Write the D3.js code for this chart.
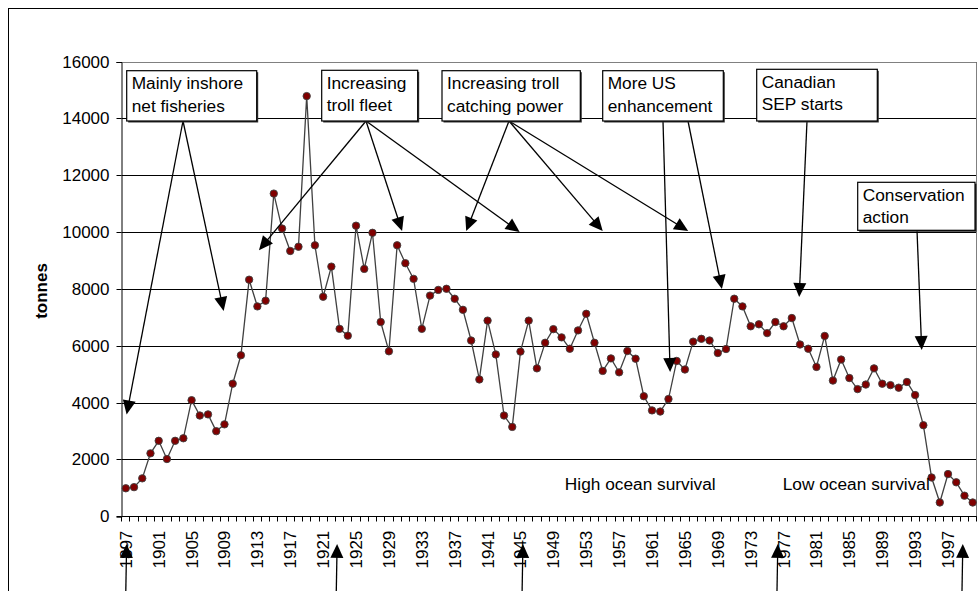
<!DOCTYPE html>
<html><head><meta charset="utf-8">
<script src="https://cdn.jsdelivr.net/npm/d3@7/dist/d3.min.js"></script>
<style>
body{margin:0;background:#fff}
svg{display:block}
text{font-family:Arial,"Liberation Sans",sans-serif;fill:#000}
</style>
</head><body>
<svg id="chart" width="978" height="591"></svg>
<script>
// ---------------- data ----------------
const years = [1897,1898,1899,1900,1901,1902,1903,1904,1905,1906,1907,1908,1909,1910,
1911,1912,1913,1914,1915,1916,1917,1918,1919,1920,1921,1922,1923,1924,1925,1926,1927,1928,1929,1930,
1931,1932,1933,1934,1935,1936,1937,1938,1939,1940,1941,1942,1943,1944,1945,1946,1947,1948,1949,1950,
1951,1952,1953,1954,1955,1956,1957,1958,1959,1960,1961,1962,1963,1964,1965,1966,1967,1968,1969,1970,
1971,1972,1973,1974,1975,1976,1977,1978,1979,1980,1981,1982,1983,1984,1985,1986,1987,1988,1989,1990,
1991,1992,1993,1994,1995,1996,1997,1998,1999,2000];
const tonnes = [1000,1040,1350,2230,2670,2030,2670,2760,4100,3560,3600,3010,3250,4680,
5680,8340,7400,7600,11370,10140,9350,9500,14800,9550,7740,8800,6610,6370,10240,8720,9990,6850,5820,9550,
8920,8370,6610,7780,7980,8020,7670,7280,6200,4830,6900,5710,3560,3160,5810,6900,5220,6120,6600,6310,
5910,6555,7140,6120,5130,5570,5080,5830,5560,4240,3740,3700,4140,5480,5180,6160,6260,6200,5760,5900,
7670,7400,6700,6770,6460,6850,6700,6990,6060,5910,5270,6360,4790,5530,4880,4490,4650,5220,4680,4630,
4540,4740,4280,3220,1380,500,1500,1210,740,500];
const yTickValues = [0,2000,4000,6000,8000,10000,12000,14000,16000];
const xTickLabels = years.filter((d,i) => i % 4 === 0);
const yTitle = "tonnes";

// annotation texts
const boxTexts = [
  ["Mainly inshore","net fisheries"],
  ["Increasing","troll fleet"],
  ["Increasing troll","catching power"],
  ["More US","enhancement"],
  ["Canadian","SEP starts"],
  ["Conservation","action"]
];
// arrow targets in data space: [box index, year, tonnes]
const arrowTargets = [
  [0,1897.1,3600],[0,1908.9,7240],
  [1,1913.2,9380],[1,1930.6,10050],[1,1944.9,10020],
  [2,1938.4,10050],[2,1955.0,10050],[2,1965.4,10050],
  [3,1963.2,5090],[3,1969.5,8010],
  [4,1978.9,7730],
  [5,1993.8,5870]
];
// upward arrows under the axis (year)
const bottomArrowYears = [1897.1,1922.7,1945.3,1976.3,1998.8];
const plainLabels = [["High ocean survival",1950.4,940],["Low ocean survival",1976.9,940]];

// ---------------- layout ----------------
const W = 978, H = 591;
const plot = {left:121.7, right:976.8, top:62, bottom:516.7};
// annotation boxes (pixel layout): x0,y0,x1,y1, arrow origin x offsets
const boxLayout = [
  {x0:126.7,y0:70.7,x1:256.7,y1:121,ox:[183,183]},
  {x0:321.7,y0:70.3,x1:417.7,y1:121,ox:[366,366,366]},
  {x0:442,y0:70.7,x1:580.3,y1:121,ox:[509,509,509]},
  {x0:602.7,y0:70.7,x1:723.3,y1:121,ox:[663,688]},
  {x0:756.7,y0:69.3,x1:877.3,y1:121,ox:[807]},
  {x0:857.7,y0:182.3,x1:975,y1:230.3,ox:[917]}
];

const svg = d3.select("#chart");
svg.append("rect").attr("width",W).attr("height",H).attr("fill","#fff");
// outer chart frame
svg.append("rect").attr("x",8.5).attr("y",8.5).attr("width",1100).attr("height",1000)
  .attr("fill","none").attr("stroke","#000").attr("stroke-width",1);

const x = d3.scaleBand().domain(years).range([plot.left, plot.right]).paddingInner(0).paddingOuter(0);
const xc = d => x(d) + x.bandwidth()/2;
const xl = d3.scaleLinear().domain([years[0]-0.5, years[years.length-1]+0.5]).range([plot.left, plot.right]);
const y = d3.scaleLinear().domain([0,16000]).range([plot.bottom, plot.top]);
const crisp = v => Math.round(v - 0.5) + 0.5;

// gridlines
svg.append("g").selectAll("line").data(yTickValues.filter(v=>v>0)).join("line")
  .attr("x1",plot.left).attr("x2",plot.right)
  .attr("y1",d=>crisp(y(d))).attr("y2",d=>crisp(y(d)))
  .attr("stroke","#000").attr("stroke-width",1);
// plot border (grey top/right)
svg.append("path")
  .attr("d",`M${crisp(plot.left)},${crisp(plot.top)}H${crisp(plot.right)}V${crisp(plot.bottom)}`)
  .attr("fill","none").attr("stroke","#808080").attr("stroke-width",1);

// y axis
const yAxis = d3.axisLeft(y).tickValues(yTickValues).tickSize(5).tickPadding(7).tickFormat(d3.format("d"));
const gy = svg.append("g").attr("transform",`translate(${crisp(plot.left)},0)`).call(yAxis);
gy.select(".domain").attr("stroke","#000");
gy.selectAll(".tick line").attr("stroke","#000").attr("transform",function(){return null;});
gy.selectAll(".tick").attr("transform",d=>`translate(0,${crisp(y(d))})`);
gy.selectAll("text").attr("font-size",17).attr("font-family","Arial, 'Liberation Sans', sans-serif").attr("fill","#000");

// x axis: tick marks at every category boundary
const gx = svg.append("g");
gx.append("line").attr("x1",plot.left).attr("x2",plot.right)
  .attr("y1",crisp(plot.bottom)).attr("y2",crisp(plot.bottom)).attr("stroke","#000");
const boundaries = years.map(d=>x(d)).concat([plot.right]);
gx.selectAll("line.tk").data(boundaries).join("line").attr("class","tk")
  .attr("x1",d=>crisp(d)).attr("x2",d=>crisp(d))
  .attr("y1",crisp(plot.bottom)).attr("y2",crisp(plot.bottom)+5)
  .attr("stroke","#000");
gx.selectAll("text").data(xTickLabels).join("text")
  .attr("transform",d=>`translate(${xc(d)},${plot.bottom+14}) rotate(-90)`)
  .attr("text-anchor","end").attr("dy","0.35em").attr("font-size",17)
  .text(d=>d);

// y title
svg.append("text").attr("transform",`translate(41,291) rotate(-90)`)
  .attr("text-anchor","middle").attr("dy","0.35em")
  .attr("font-size",17).attr("font-weight","bold").text(yTitle);

// series line + markers
svg.append("path").datum(years.map((d,i)=>[d,tonnes[i]]))
  .attr("d",d3.line().x(d=>xc(d[0])).y(d=>y(d[1])))
  .attr("fill","none").attr("stroke","#404040").attr("stroke-width",1.3);
svg.append("g").selectAll("circle").data(years.map((d,i)=>[d,tonnes[i]])).join("circle")
  .attr("cx",d=>xc(d[0])).attr("cy",d=>y(d[1])).attr("r",3.7)
  .attr("fill","#800000").attr("stroke","#404040").attr("stroke-width",0.9);

// plain labels
svg.append("g").selectAll("text").data(plainLabels).join("text")
  .attr("x",d=>xl(d[1])).attr("y",d=>y(d[2])).attr("font-size",17.3).text(d=>d[0]);

// arrows helper
const ann = svg.append("g");
function arrow(x1,y1,x2,y2){
  const L=14, hw=6.5;
  const dx=x2-x1, dy=y2-y1, len=Math.hypot(dx,dy), ux=dx/len, uy=dy/len;
  const bx=x2-ux*L, by=y2-uy*L;
  ann.append("line").attr("x1",x1).attr("y1",y1).attr("x2",bx+ux*2).attr("y2",by+uy*2)
    .attr("stroke","#000").attr("stroke-width",1.3);
  ann.append("path").attr("d",`M${x2},${y2}L${bx-uy*hw},${by+ux*hw}L${bx+uy*hw},${by-ux*hw}Z`)
    .attr("fill","#000");
}
// arrows from boxes
const counters = boxLayout.map(()=>0);
arrowTargets.forEach(([bi,yr,tv])=>{
  const b = boxLayout[bi];
  const ox = b.ox[counters[bi]++];
  arrow(ox, b.y1, xl(yr), y(tv));
});
// upward arrows from below
bottomArrowYears.forEach(yr=>{
  arrow(xl(yr)-1, H+10, xl(yr), y(-960));
});

// annotation boxes (drawn last, on top)
boxLayout.forEach((b,i)=>{
  const g = svg.append("g");
  g.append("rect").attr("x",b.x0+1.5).attr("y",b.y0+1.5).attr("width",b.x1-b.x0).attr("height",b.y1-b.y0)
    .attr("fill","#333");
  g.append("rect").attr("x",b.x0).attr("y",b.y0).attr("width",b.x1-b.x0).attr("height",b.y1-b.y0)
    .attr("fill","#fff").attr("stroke","#000").attr("stroke-width",1.2);
  boxTexts[i].forEach((t,j)=>{
    g.append("text").attr("x",b.x0+5).attr("y",b.y0+18.3+j*22.7).attr("font-size",17.3).text(t);
  });
});
</script>
</body></html>
